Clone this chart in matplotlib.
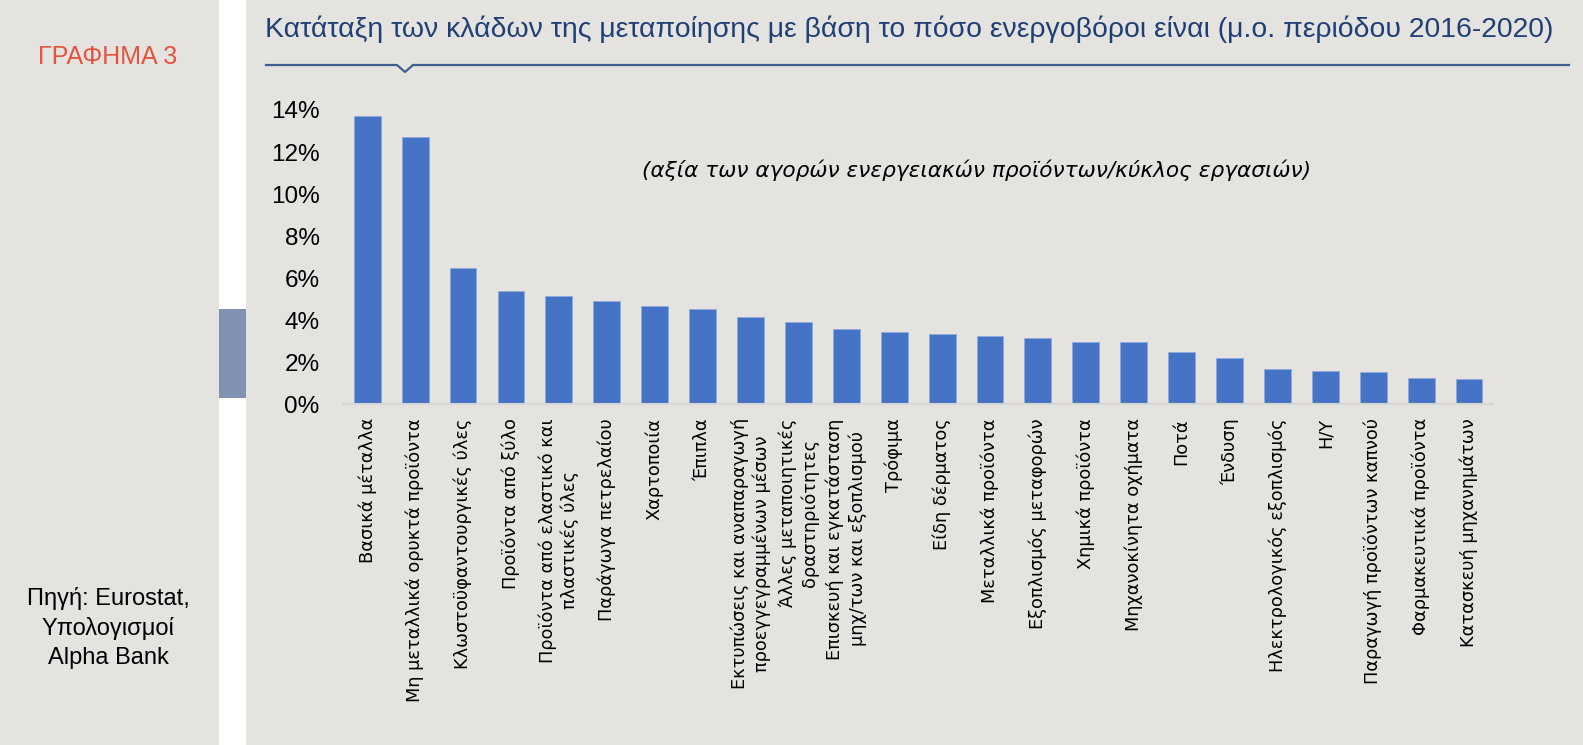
import matplotlib
matplotlib.use("Agg")
import matplotlib.pyplot as plt
from matplotlib import font_manager
from matplotlib.patches import Rectangle
from matplotlib.lines import Line2D
from matplotlib.ticker import PercentFormatter

# data (share of energy purchases in turnover, %)
sectors = [
    "Βασικά μέταλλα",
    "Μη μεταλλικά ορυκτά προϊόντα",
    "Κλωστοϋφαντουργικές ύλες",
    "Προϊόντα από ξύλο",
    "Προϊόντα από ελαστικό και\nπλαστικές ύλες",
    "Παράγωγα πετρελαίου",
    "Χαρτοποιία",
    "Έπιπλα",
    "Εκτυπώσεις και αναπαραγωγή\nπροεγγεγραμμένων μέσων",
    "Άλλες μεταποιητικές\nδραστηριότητες",
    "Επισκευή και εγκατάσταση\nμηχ/των και εξοπλισμού",
    "Τρόφιμα",
    "Είδη δέρματος",
    "Μεταλλικά προϊόντα",
    "Εξοπλισμός μεταφορών",
    "Χημικά προϊόντα",
    "Μηχανοκίνητα οχήματα",
    "Ποτά",
    "Ένδυση",
    "Ηλεκτρολογικός εξοπλισμός",
    "Η/Υ",
    "Παραγωγή προϊόντων καπνού",
    "Φαρμακευτικά προϊόντα",
    "Κατασκευή μηχανημάτων",
]
values = [13.70, 12.71, 6.50, 5.41, 5.17, 4.92, 4.67, 4.51, 4.14, 3.90, 3.57, 3.43,
          3.33, 3.25, 3.14, 2.98, 2.97, 2.50, 2.22, 1.67, 1.57, 1.54, 1.24, 1.19]
yticks = [0, 2, 4, 6, 8, 10, 12, 14]

title = "Κατάταξη των κλάδων της μεταποίησης με βάση το πόσο ενεργοβόροι είναι (μ.ο. περιόδου 2016-2020)"
subtitle = "(αξία των αγορών ενεργειακών προϊόντων/κύκλος εργασιών)"
source = "Πηγή: Eurostat,\nΥπολογισμοί\nAlpha Bank"

bg = "#e4e3df"
bar_color = "#4472c4"
navy = "#1f3f77"

names = {f.name for f in font_manager.fontManager.ttflist}
title_font = "Liberation Sans Narrow" if "Liberation Sans Narrow" in names else "Liberation Sans"
title_size = 24 if title_font == "Liberation Sans Narrow" else 20.4

W, H = 1583, 745
fig = plt.figure(figsize=(W / 100, H / 100), dpi=100, facecolor=bg)


def px(x, y):
    return x / W, 1 - y / H


# left side strip and marker block
fig.patches.append(Rectangle(px(218.5, H), 27 / W, 1, transform=fig.transFigure,
                             facecolor="white", edgecolor="none"))
fig.patches.append(Rectangle(px(218.5, 398), 27 / W, 89 / H, transform=fig.transFigure,
                             facecolor="#8191b0", edgecolor="none"))

fig.text(*px(108, 57), "ΓΡΑΦΗΜΑ 3", color="#e5533d", fontsize=18,
         family="Liberation Sans", ha="center", va="center")
fig.text(*px(108, 628), source, color="black", fontsize=17, family="Liberation Sans",
         ha="center", va="center", linespacing=1.4)

# title and underline with small notch
fig.text(*px(265, 29), title, color=navy, fontsize=title_size, family=title_font,
         ha="left", va="center")
lx = [266, 397, 405, 413, 1569]
ly = [65, 65, 72, 65, 65]
fig.lines.append(Line2D([px(x, 0)[0] for x in lx], [px(0, y)[1] for y in ly],
                        transform=fig.transFigure, color="#3d5f8f", lw=1.6))

fig.text(*px(977, 170), subtitle, fontsize=15.6, family="DejaVu Sans",
         style="italic", ha="center", va="center")

ax = fig.add_axes([343.3 / W, 1 - 404.3 / H, (1493 - 343.3) / W, (404.3 - 110) / H])
ax.set_facecolor("none")
ax.bar(range(len(values)), values, width=0.56, color=bar_color,
       edgecolor="#8eaadb", linewidth=0.6)
ax.set_xlim(-0.5, len(values) - 0.5)
ax.set_ylim(0, 14)
ax.set_yticks(yticks)
ax.yaxis.set_major_formatter(PercentFormatter(decimals=0))
ax.set_xticks(range(len(values)))
ax.set_xticklabels(sectors, rotation=90, family="DejaVu Sans", fontsize=12.8,
                   multialignment="center", linespacing=1.25)
for lab in ax.get_yticklabels():
    lab.set_family("Liberation Sans")
    lab.set_fontsize(17.5)
ax.tick_params(axis="both", length=0)
ax.tick_params(axis="y", pad=17)
ax.tick_params(axis="x", pad=10)
for s in ["left", "right", "top"]:
    ax.spines[s].set_visible(False)
ax.spines["bottom"].set_color("#d6d6d4")
ax.spines["bottom"].set_linewidth(1.5)

fig.savefig("out.png", dpi=100, facecolor=bg)
